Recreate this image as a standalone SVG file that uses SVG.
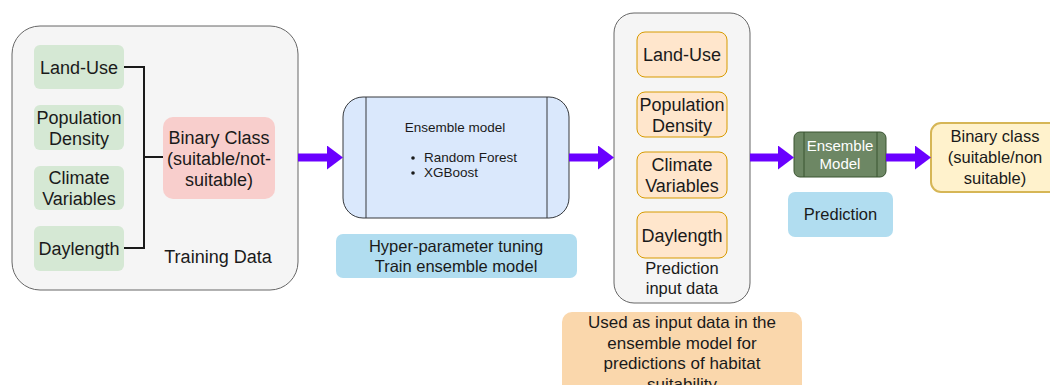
<svg xmlns="http://www.w3.org/2000/svg" width="1050" height="385" viewBox="0 0 1050 385">
  <defs>
    <style>
      text { font-family: "Liberation Sans", Arial, sans-serif; fill: #1a1a1a; text-anchor: middle; }
      .t18 { font-size: 18px; }
      .t17 { font-size: 17px; }
      .t16 { font-size: 16.5px; }
      .t13 { font-size: 13.5px; }
      .green { fill: #d5e8d4; }
      .orange { fill: #ffe6cc; stroke: #d79b00; stroke-width: 1; }
      .blue { fill: #b1ddf0; }
      .cont { fill: #f5f5f5; stroke: #666666; stroke-width: 1; }
      .flow { fill: none; stroke: #6a00ff; stroke-width: 8; }
      .link { fill: none; stroke: #1a1a1a; stroke-width: 2; }
    </style>
    <marker id="head" markerUnits="userSpaceOnUse" viewBox="0 0 16 24" markerWidth="16" markerHeight="24" refX="0.5" refY="12" orient="auto">
      <polygon points="0,0 16,12 0,24" fill="#6a00ff"/>
    </marker>
  </defs>

  <g id="training-data">
    <rect class="cont" x="12" y="26" width="286" height="264" rx="28"/>
    <text class="t18" x="218" y="263">Training Data</text>
  </g>
  <g id="train-landuse">
    <rect class="green" x="34" y="45" width="90" height="44" rx="6"/>
    <text class="t18" x="79" y="73.5">Land-Use</text>
  </g>
  <g id="train-population">
    <rect class="green" x="34" y="105" width="90" height="45" rx="6"/>
    <text class="t18" x="79" y="123.5">Population</text>
    <text class="t18" x="79" y="144.5">Density</text>
  </g>
  <g id="train-climate">
    <rect class="green" x="34" y="166" width="90" height="44" rx="6"/>
    <text class="t18" x="79" y="183.5">Climate</text>
    <text class="t18" x="79" y="204.5">Variables</text>
  </g>
  <g id="train-daylength">
    <rect class="green" x="34" y="226" width="90" height="45" rx="6"/>
    <text class="t18" x="79" y="254.5">Daylength</text>
  </g>
  <g id="binary-class-train">
    <rect x="163" y="117" width="112" height="82" rx="10" fill="#f8cecc"/>
    <text class="t18" x="219" y="143.5">Binary Class</text>
    <text class="t18" x="219" y="164.5">(suitable/not-</text>
    <text class="t18" x="219" y="185.5">suitable)</text>
  </g>

  <g id="ensemble-model">
    <rect x="343" y="97" width="226" height="121" rx="20" fill="#dae8fc" stroke="#36393d" stroke-width="1"/>
    <line x1="366" y1="97" x2="366" y2="218" stroke="#36393d" stroke-width="1"/>
    <line x1="547" y1="97" x2="547" y2="218" stroke="#36393d" stroke-width="1"/>
    <text class="t13" x="455" y="132">Ensemble model</text>
    <circle cx="413" cy="158" r="1.8" fill="#1a1a1a"/>
    <circle cx="413" cy="173" r="1.8" fill="#1a1a1a"/>
    <text class="t13" x="424" y="162" style="text-anchor:start">Random Forest</text>
    <text class="t13" x="424" y="177" style="text-anchor:start">XGBoost</text>
  </g>
  <g id="hyper-parameter">
    <rect class="blue" x="336" y="234" width="241" height="44" rx="7"/>
    <text class="t16" x="456" y="252">Hyper-parameter tuning</text>
    <text class="t16" x="456" y="272">Train ensemble model</text>
  </g>

  <g id="prediction-input">
    <rect class="cont" x="614" y="13" width="136" height="290" rx="20"/>
    <text class="t16" x="682" y="274">Prediction</text>
    <text class="t16" x="682" y="294">input data</text>
  </g>
  <g id="pred-landuse">
    <rect class="orange" x="637" y="32" width="90" height="45" rx="8"/>
    <text class="t18" x="682" y="61">Land-Use</text>
  </g>
  <g id="pred-population">
    <rect class="orange" x="637" y="92" width="90" height="45" rx="8"/>
    <text class="t18" x="682" y="110.5">Population</text>
    <text class="t18" x="682" y="131.5">Density</text>
  </g>
  <g id="pred-climate">
    <rect class="orange" x="637" y="152" width="90" height="46" rx="8"/>
    <text class="t18" x="682" y="171">Climate</text>
    <text class="t18" x="682" y="192">Variables</text>
  </g>
  <g id="pred-daylength">
    <rect class="orange" x="637" y="212" width="90" height="46" rx="8"/>
    <text class="t18" x="682" y="241.5">Daylength</text>
  </g>
  <g id="input-note">
    <rect x="562" y="312" width="240" height="90" rx="10" fill="#fad7ac"/>
    <text class="t17" x="682" y="328">Used as input data in the</text>
    <text class="t17" x="682" y="348.5">ensemble model for</text>
    <text class="t17" x="682" y="369">predictions of habitat</text>
    <text class="t17" x="682" y="389.5">suitability</text>
  </g>

  <g id="ensemble-model-small">
    <rect x="794" y="132" width="92" height="45" rx="6" fill="#6d8764" stroke="#3a5431" stroke-width="1"/>
    <line x1="804" y1="132" x2="804" y2="177" stroke="#3a5431" stroke-width="1"/>
    <line x1="877" y1="132" x2="877" y2="177" stroke="#3a5431" stroke-width="1"/>
    <text x="840" y="150.5" style="font-size:15px; fill:#ffffff">Ensemble</text>
    <text x="840" y="169" style="font-size:15px; fill:#ffffff">Model</text>
  </g>
  <g id="prediction">
    <rect class="blue" x="788" y="192" width="105" height="45" rx="7"/>
    <text class="t16" x="840.5" y="220">Prediction</text>
  </g>
  <g id="binary-class-output">
    <rect x="931" y="123" width="132" height="69" rx="10" fill="#fff2cc" stroke="#d6b656" stroke-width="2"/>
    <text class="t16" x="995" y="142">Binary class</text>
    <text class="t16" x="995" y="163">(suitable/non</text>
    <text class="t16" x="995" y="184">suitable)</text>
  </g>

  <g id="connectors">
    <path class="link" d="M124,67 H144 V248 H124"/>
    <path class="link" d="M144,157 H163"/>
    <path class="flow" d="M298,157.5 H327.5" marker-end="url(#head)"/>
    <path class="flow" d="M569,157.5 H598.5" marker-end="url(#head)"/>
    <path class="flow" d="M750,157.5 H778.5" marker-end="url(#head)"/>
    <path class="flow" d="M886,157.5 H915.5" marker-end="url(#head)"/>
  </g>
</svg>
